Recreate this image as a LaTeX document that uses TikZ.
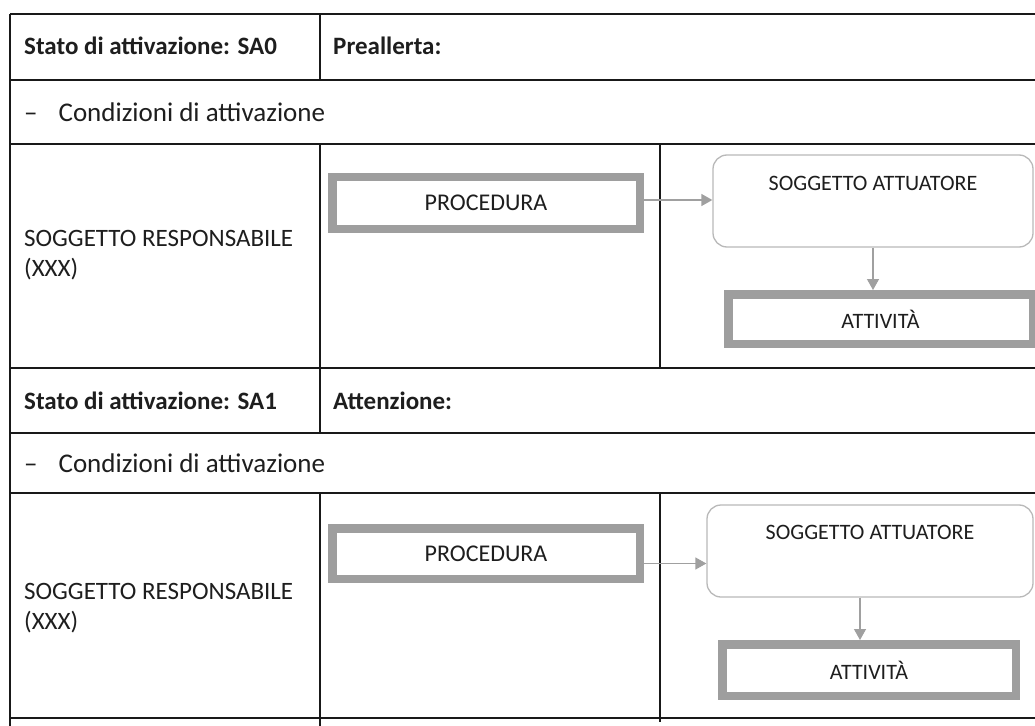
\documentclass[tikz,border=0pt]{standalone}
\usepackage{fontspec}
\setmainfont{Carlito}
\usetikzlibrary{arrows.meta}
\definecolor{gridc}{RGB}{25,25,25}
\definecolor{thickc}{RGB}{158,158,158}
\definecolor{roundc}{RGB}{185,185,185}
\definecolor{connc}{RGB}{160,160,160}
\definecolor{txtc}{RGB}{30,30,30}
\tikzset{
  grid/.style={draw=gridc, line width=1.6bp},
  hdr/.style={anchor=west, inner sep=0pt, text=txtc, font=\fontsize{25bp}{29bp}\selectfont\bfseries},
  cond/.style={anchor=west, inner sep=0pt, text=txtc, font=\fontsize{27bp}{30bp}\selectfont},
  resp/.style={anchor=west, inner sep=0pt, text=txtc, align=left, font=\fontsize{25bp}{30bp}\selectfont},
  thickbox/.style={draw=thickc, line width=8.5bp, fill=white, inner sep=0pt, text=txtc,
    font=\fontsize{24bp}{28bp}\selectfont},
  rbox/.style={draw=roundc, line width=1.3bp, rounded corners=14bp, fill=white, inner sep=0pt},
  boxtxt/.style={inner sep=0pt, text=txtc, font=\fontsize{22bp}{26bp}\selectfont},
  conn/.style={draw=connc, line width=1.3bp, -{Triangle[length=11bp,width=12bp]}}
}
\begin{document}
\begin{tikzpicture}[x=1bp, y=-1bp]
\useasboundingbox[fill=white] (0,0) rectangle (1035,726);
% ---------- table grid ----------
\draw[grid] (10,14) -- (1040,14);
\draw[grid] (10,80) -- (1040,80);
\draw[grid] (10,144) -- (1040,144);
\draw[grid] (10,368) -- (1040,368);
\draw[grid] (10,433) -- (1040,433);
\draw[grid] (10,493) -- (1040,493);
\draw[grid] (10,718) -- (1040,718);
\draw[grid] (10,14) -- (10,726);
\draw[grid] (320,14) -- (320,80);
\draw[grid] (320,144) -- (320,433);
\draw[grid] (320,493) -- (320,726);
\draw[grid] (660,144) -- (660,368);
\draw[grid] (660,493) -- (660,722);
% ---------- section SA0 ----------
\node[hdr] (h0) at (24,46) {Stato di attivazione: SA0};
\node[hdr] (p0) at (333,46) {Preallerta:};
\node[cond] (c0) at (24,112) {–\hspace{21bp}Condizioni di attivazione};
\node[resp] (r0) at (24,255) {SOGGETTO RESPONSABILE\\(XXX)};
\node[thickbox, minimum width=307.5bp, minimum height=51.5bp] (proc0) at (486,203) {PROCEDURA};
\node[rbox, minimum width=320bp, minimum height=92bp] (sa0) at (873,201) {};
\node[boxtxt] (sat0) at (873,183) {SOGGETTO ATTUATORE};
\node[thickbox, minimum width=304.5bp, minimum height=49.5bp, font=\fontsize{22bp}{26bp}\selectfont] (act0) at (880.5,319) {ATTIVITÀ};
\draw[conn] ([yshift=3bp]proc0.east) -- ([yshift=3bp]proc0.east -| sa0.west);
\draw[conn] (sa0.south) -- (sa0.south |- act0.north);
% ---------- section SA1 ----------
\node[hdr] (h1) at (24,401) {Stato di attivazione: SA1};
\node[hdr] (p1) at (333,401) {Attenzione:};
\node[cond] (c1) at (24,463) {–\hspace{21bp}Condizioni di attivazione};
\node[resp] (r1) at (24,608) {SOGGETTO RESPONSABILE\\(XXX)};
\node[thickbox, minimum width=307.5bp, minimum height=50.5bp] (proc1) at (486,553.5) {PROCEDURA};
\node[rbox, minimum width=326bp, minimum height=92bp] (sa1) at (870,551) {};
\node[boxtxt] (sat1) at (870,532) {SOGGETTO ATTUATORE};
\node[thickbox, minimum width=293.5bp, minimum height=51.5bp, font=\fontsize{22bp}{26bp}\selectfont] (act1) at (869,670) {ATTIVITÀ};
\draw[conn] ([yshift=-10bp]proc1.east) -- ([yshift=-10bp]proc1.east -| sa1.west);
\draw[conn] ([xshift=-10bp]sa1.south) -- ([xshift=-10bp]sa1.south |- act1.north);
\end{tikzpicture}
\end{document}
